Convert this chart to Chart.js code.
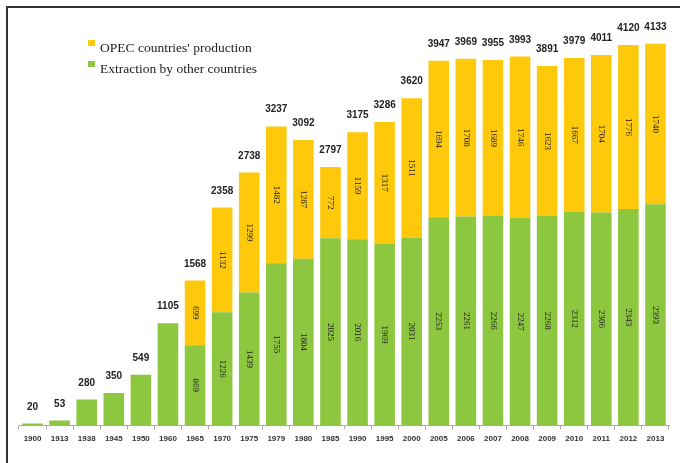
<!DOCTYPE html>
<html>
<head>
<meta charset="utf-8">
<script src="https://cdn.jsdelivr.net/npm/chart.js@4"></script>
<style>
  body { margin: 0; background: #fff; }
  #wrap { position: relative; width: 680px; height: 463px; overflow: hidden; }
  #frame { position: absolute; left: 6px; top: 6px; width: 700px; height: 480px;
           border-top: 2px solid #333; border-left: 2px solid #333; }
  canvas { position: absolute; left: 0; top: 0; }
</style>
</head>
<body>
<div id="wrap">
  <div id="frame"></div>
  <canvas id="chart" width="680" height="463"></canvas>
</div>
<script>
const years = ["1900", "1913", "1938", "1945", "1950", "1960", "1965", "1970", "1975", "1979",
  "1980", "1985", "1990", "1995", "2000", "2005", "2006", "2007", "2008", "2009",
  "2010", "2011", "2012", "2013"];
const otherCountries = [20, 53, 280, 350, 549, 1105, 869, 1226, 1439, 1755,
  1804, 2025, 2016, 1969, 2031, 2253, 2261, 2266, 2247, 2268,
  2312, 2306, 2343, 2393];
const opec = [0, 0, 0, 0, 0, 0, 699, 1132, 1299, 1482,
  1287, 772, 1159, 1317, 1511, 1694, 1708, 1689, 1746, 1623,
  1667, 1704, 1776, 1740];
const totals = [20, 53, 280, 350, 549, 1105, 1568, 2358, 2738, 3237,
  3092, 2797, 3175, 3286, 3620, 3947, 3969, 3955, 3993, 3891,
  3979, 4011, 4120, 4133];

const YELLOW = "#fdc90a";
const GREEN = "#8dc63f";

// numbers on the bars: rotated inside segments (only where both parts exist), totals on top
const barLabels = {
  id: "barLabels",
  afterDatasetsDraw(chart) {
    const ctx = chart.ctx;
    ctx.save();
    ctx.fillStyle = "#222";
    ctx.font = "9px 'Liberation Serif'";
    ctx.textAlign = "center";
    ctx.textBaseline = "middle";
    chart.data.datasets.forEach((ds, di) => {
      chart.getDatasetMeta(di).data.forEach((bar, i) => {
        const v = ds.data[i];
        if (!v || !opec[i]) return;
        const cy = (bar.y + bar.base) / 2;
        ctx.save();
        ctx.translate(bar.x, cy);
        ctx.rotate(Math.PI / 2);
        ctx.fillText(String(v), 0, 0);
        ctx.restore();
      });
    });
    const top = chart.getDatasetMeta(1).data;
    ctx.fillStyle = "#222";
    ctx.font = "bold 10px 'Liberation Sans'";
    ctx.textBaseline = "alphabetic";
    top.forEach((bar, i) => {
      ctx.fillText(String(totals[i]), bar.x, bar.y - 14);
    });
    ctx.restore();
  }
};

const legendBox = {
  id: "legendBox",
  afterDraw(chart) {
    const ctx = chart.ctx;
    ctx.save();
    ctx.font = "13.5px 'Liberation Serif'";
    ctx.textBaseline = "middle";
    ctx.textAlign = "left";
    const items = [chart.data.datasets[1], chart.data.datasets[0]];
    items.forEach((ds, k) => {
      const y = 48 + k * 21;
      ctx.fillStyle = ds.backgroundColor;
      ctx.fillRect(88, y - 8, 7, 6);
      ctx.fillStyle = "#222";
      ctx.fillText(ds.label, 100, y);
    });
    ctx.restore();
  }
};

new Chart(document.getElementById("chart"), {
  type: "bar",
  data: {
    labels: years,
    datasets: [
      { label: "Extraction by other countries", data: otherCountries, backgroundColor: GREEN,
        barPercentage: 0.76, categoryPercentage: 1 },
      { label: "OPEC countries' production", data: opec, backgroundColor: YELLOW,
        barPercentage: 0.76, categoryPercentage: 1 }
    ]
  },
  options: {
    responsive: false,
    animation: false,
    layout: { padding: { left: 19, right: 11, top: 19, bottom: 14 } },
    plugins: { legend: { display: false }, tooltip: { enabled: false } },
    scales: {
      x: {
        stacked: true,
        grid: { offset: true, drawOnChartArea: false, tickLength: 4, color: "#aaa" },
        border: { color: "#aaa" },
        ticks: { color: "#333", font: { family: "Liberation Sans", size: 8, weight: "bold" },
          maxRotation: 0, autoSkip: false, padding: 5 }
      },
      y: { stacked: true, display: false, min: 0, max: 4400 }
    }
  },
  plugins: [barLabels, legendBox]
});
</script>
</body>
</html>
